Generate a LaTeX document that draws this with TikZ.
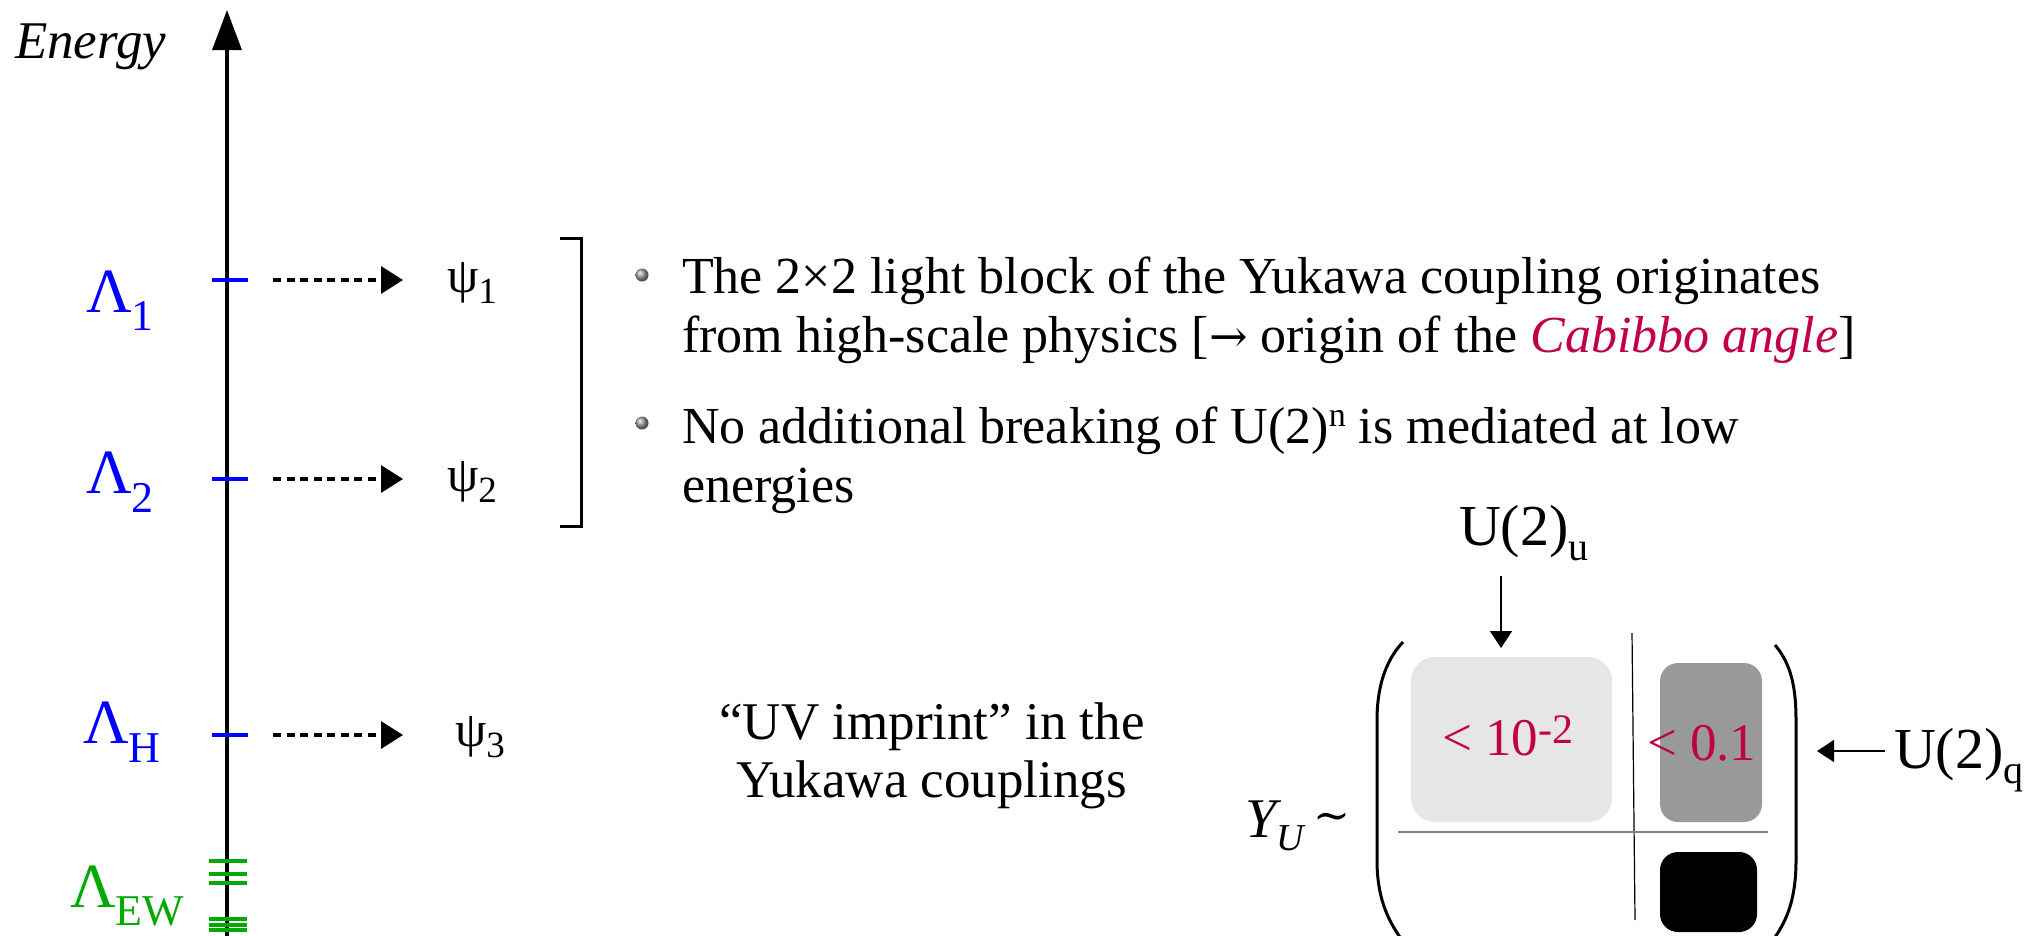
\documentclass[tikz,border=0pt]{standalone}
\usepackage{fontspec}
\setmainfont{Liberation Serif}
\newfontfamily\djs{DejaVu Serif}
\usetikzlibrary{arrows.meta,shadings}
\definecolor{crim}{RGB}{192,0,72}
\definecolor{lgreen}{RGB}{0,170,0}
\definecolor{lightbox}{RGB}{230,230,230}
\definecolor{darkbox}{RGB}{153,153,153}
\newcommand{\fs}[1]{\fontsize{#1}{#1}\selectfont}
\newcommand{\lowsub}[3]{\raisebox{-#2pt}{\fs{#1}#3}}
\newcommand{\highsup}[3]{\raisebox{#2pt}{\fs{#1}#3}}
\begin{document}
\begin{tikzpicture}[x=1pt,y=-1pt,
  lbl/.style={inner sep=0pt,outer sep=0pt,anchor=base west},
  tick/.style={line width=4pt,blue},
  ewtick/.style={line width=3.5pt,lgreen},
  dasharrow/.style={line width=3.5pt,dash pattern=on 8pt off 5.5pt,-{Triangle[length=22pt,width=27pt]}},
  thinarrow/.style={line width=1.6pt,-{Triangle[length=17pt,width=22pt]}},
  paren/.style={line width=3pt},
  ballet/.style={ball color=gray!75}]
\useasboundingbox (0,0) rectangle (2025,935);
% axis
\coordinate (axb) at (227,940);
\coordinate (axt) at (227,10);
\draw[line width=3.5pt,-{Triangle[length=40pt,width=29pt]}] (axb) -- (axt);
\node[lbl] (energy) at (15,58) {\fs{53}\itshape Energy};
% ticks
\foreach \n/\y in {t1/280,t2/479,tH/735}{
  \draw[tick] (212,\y) -- (248,\y);
  \coordinate (\n) at (273,\y);
  \coordinate (\n e) at (403,\y);
}
\foreach \y in {861,874,883,919,925,930}{\draw[ewtick] (209,\y) -- (247,\y);}
% Lambda labels
\node[lbl,text=blue] (L1) at (86,312) {\fs{63}Λ\lowsub{44}{18}{1}};
\node[lbl,text=blue] (L2) at (86,493) {\fs{63}Λ\lowsub{44}{19}{2}};
\node[lbl,text=blue] (LH) at (83,743) {\fs{63}Λ\lowsub{44}{19}{H}};
\node[lbl,text=lgreen] (LEW) at (70,907) {\fs{63}Λ\lowsub{44}{18}{EW}};
% psi
\node[lbl] (p1) at (447,292) {\fs{50}ψ\lowsub{37}{11}{1}};
\node[lbl] (p2) at (447,491) {\fs{50}ψ\lowsub{37}{11}{2}};
\node[lbl] (p3) at (455,746) {\fs{50}ψ\lowsub{37}{11}{3}};
\draw[dasharrow] (t1) -- (t1e);
\draw[dasharrow] (t2) -- (t2e);
\draw[dasharrow] (tH) -- (tHe);
% bracket
\draw[line width=3pt] (560,238) -- (581,238) -- (581,526) -- (560,526);
% bullets
\shade[ballet] (642,275) circle (6.5);
\shade[ballet] (642,423) circle (6.5);
\node[lbl] (b1a) at (682,293) {\fs{52}The 2×2 light block of the Yukawa coupling originates};
\node[lbl] (b1b) at (682,352) {\fs{52}from high-scale physics [{\djs\fs{46}→} origin of the \textcolor{crim}{\itshape Cabibbo angle}]};
\node[lbl] (b2a) at (682,443) {\fs{52}No additional breaking of U(2)\highsup{34}{17}{n} is mediated at low};
\node[lbl] (b2b) at (682,502) {\fs{52}energies};
% UV imprint
\node[inner sep=0pt,align=center,anchor=base,font=\fontsize{53}{58}\selectfont] (uv) at (932,797) {“UV imprint” in the\\ Yukawa couplings};
% Y_U ~
\node[lbl] (yu) at (1245,837) {\fs{56}\itshape Y\lowsub{38}{13}{U}};
\node[inner sep=0pt] (tl) at (1332,822) {\djs\fs{44}∼};
% matrix
\fill[lightbox,rounded corners=24pt] (1411,657) rectangle (1612,822);
\fill[darkbox,rounded corners=18pt] (1660,663) rectangle (1762,822);
\fill[black,rounded corners=18pt] (1660,852) rectangle (1757,932);
\draw[line width=1.2pt] (1632,633) -- (1635,920);
\draw[line width=1.6pt,gray] (1398,832) -- (1768,832);
\draw[paren] (1403,642) .. controls (1384,662) and (1377,690) .. (1377,720) -- (1377,860) .. controls (1377,895) and (1386,918) .. (1402,940);
\draw[paren] (1775,645) .. controls (1792,665) and (1796,690) .. (1796,720) -- (1796,860) .. controls (1796,895) and (1789,918) .. (1773,940);
\node[lbl,text=crim] (m1) at (1442,755) {\fs{53}< 10\highsup{42}{12}{-2}};
\node[lbl,text=crim] (m2) at (1647,760) {\fs{53}< 0.1};
% U(2) labels
\node[lbl] (uu) at (1459,545) {\fs{58}U(2)\lowsub{40}{15}{u}};
\node[lbl] (uq) at (1894,768) {\fs{58}U(2)\lowsub{40}{15}{q}};
\coordinate (uus) at (1501,576);
\coordinate (uue) at (1501,648);
\coordinate (uqs) at (1885,751);
\coordinate (uqe) at (1817,751);
\draw[thinarrow] (uus) -- (uue);
\draw[thinarrow] (uqs) -- (uqe);
\end{tikzpicture}
\end{document}
